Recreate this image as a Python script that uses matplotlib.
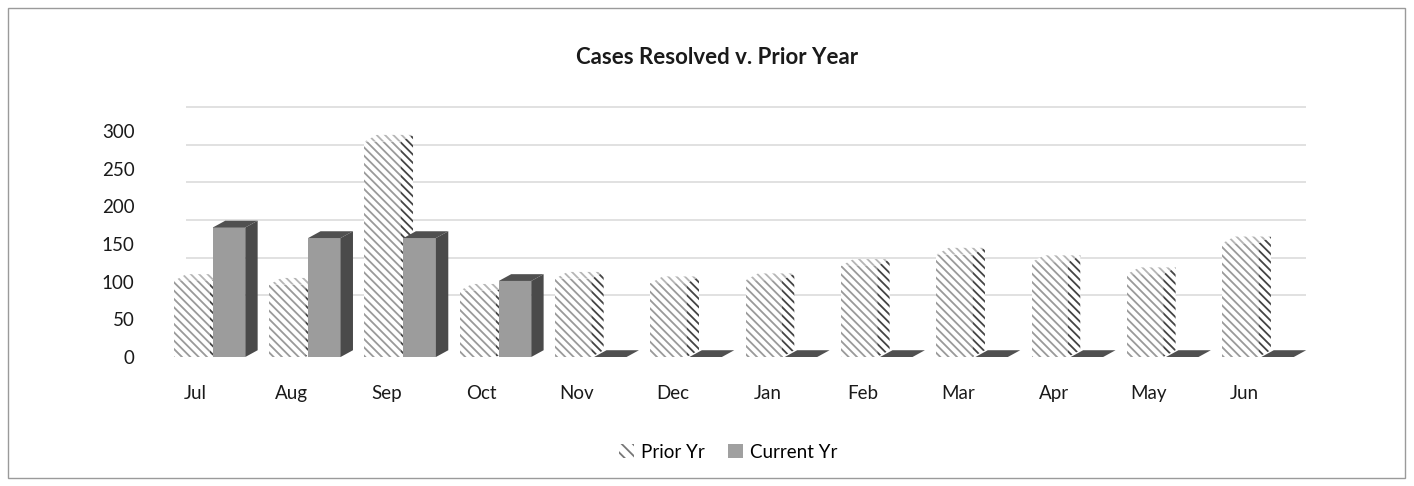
import numpy as np
import matplotlib.pyplot as plt
from matplotlib.patches import Polygon, Rectangle, Patch

# ----------------------------------
# DATA
# ----------------------------------

months = ["Jul", "Aug", "Sep", "Oct", "Nov", "Dec",
          "Jan", "Feb", "Mar", "Apr", "May", "Jun"]

prior_yr = [101, 96, 286, 88, 104, 98, 102, 121, 136, 126, 110, 151]
current_yr = [172, 158, 158, 101, 0, 0, 0, 0, 0, 0, 0, 0]

y_ticks = [0, 50, 100, 150, 200, 250, 300]

# ----------------------------------
# STYLE
# ----------------------------------

plt.rcParams["font.family"] = ["Lato", "DejaVu Sans"]
plt.rcParams["hatch.linewidth"] = 1.3

fig = plt.figure(figsize=(14.14, 4.86), dpi=100)
ax = fig.add_axes([165 / 1414, 129 / 486, 1145 / 1414, 256 / 486])

x = np.arange(len(months))
w_prior = 0.38
w_cur = 0.34
dx = 0.13   # fake depth, x (data units)
dy = 9      # fake depth, y (data units)
wall_dy = 32

ax.set_xlim(-0.472, 11.54)
ax.set_ylim(0, 340)

# back wall gridlines
ax.hlines(
    [v + wall_dy for v in y_ticks[1:]],
    -0.25, 11.5,
    color="#dcdcdc",
    lw=1.2,
    zorder=0
)


def box3d(x0, x1, h, front, side, top, hatch=None, z=2):
    ax.bar(
        (x0 + x1) / 2, h, width=x1 - x0,
        facecolor="white" if hatch else front,
        edgecolor=front if hatch else "none",
        hatch=hatch, linewidth=0, zorder=z
    )
    side_pts = [(x1, 0), (x1 + dx, dy), (x1 + dx, h + dy), (x1, h)]
    top_pts = [(x0, h), (x0 + dx, h + dy), (x1 + dx, h + dy), (x1, h)]
    if hatch:
        ax.add_patch(Polygon(side_pts, closed=True, facecolor="white",
                             edgecolor=side, hatch=hatch,
                             linewidth=0, zorder=z))
        ax.add_patch(Polygon(top_pts, closed=True, facecolor="white",
                             edgecolor=top, hatch=hatch,
                             linewidth=0, zorder=z))
    else:
        ax.add_patch(Polygon(side_pts, closed=True, facecolor=side,
                             edgecolor="none", zorder=z))
        ax.add_patch(Polygon(top_pts, closed=True, facecolor=top,
                             edgecolor="none", zorder=z))


for i in range(len(months)):
    box3d(x[i] - w_prior, x[i], prior_yr[i],
          "#9a9a9a", "#444444", "#b5b5b5", hatch="\\\\\\\\", z=2)
    box3d(x[i] + 0.03, x[i] + 0.03 + w_cur, current_yr[i],
          "#9c9c9c", "#4a4a4a", "#505050", z=3)

# ----------------------------------
# AXES
# ----------------------------------

ax.set_yticks(y_ticks)
ax.set_yticklabels([str(v) for v in y_ticks], fontsize=13.5, color="#1a1a1a")
ax.set_xticks(x - 0.15)
ax.set_xticklabels(months, fontsize=13.5, color="#1a1a1a")
ax.tick_params(axis="y", length=0, pad=22)
ax.tick_params(axis="x", length=0, pad=20)

for s in ax.spines.values():
    s.set_visible(False)

fig.text(
    0.507, 1 - 57 / 486,
    "Cases Resolved v. Prior Year",
    ha="center", va="center",
    fontsize=16, fontweight="bold", color="#1a1a1a"
)

handles = [
    Patch(facecolor="white", edgecolor="#777777", hatch="\\\\\\", linewidth=0),
    Patch(facecolor="#a0a0a0", edgecolor="none"),
]
fig.legend(
    handles, ["Prior Yr", "Current Yr"],
    loc="center", bbox_to_anchor=(0.515, 1 - 452 / 486),
    ncol=2, frameon=False, fontsize=13.5,
    handlelength=0.8, handleheight=0.8,
    handletextpad=0.4, columnspacing=1.2
)

# chart border
fig.patches.append(Rectangle(
    (8 / 1414, 8 / 486), 1397 / 1414, 470 / 486,
    transform=fig.transFigure, fill=False,
    edgecolor="#9a9a9a", linewidth=1
))

fig.savefig("out.png", dpi=100)
